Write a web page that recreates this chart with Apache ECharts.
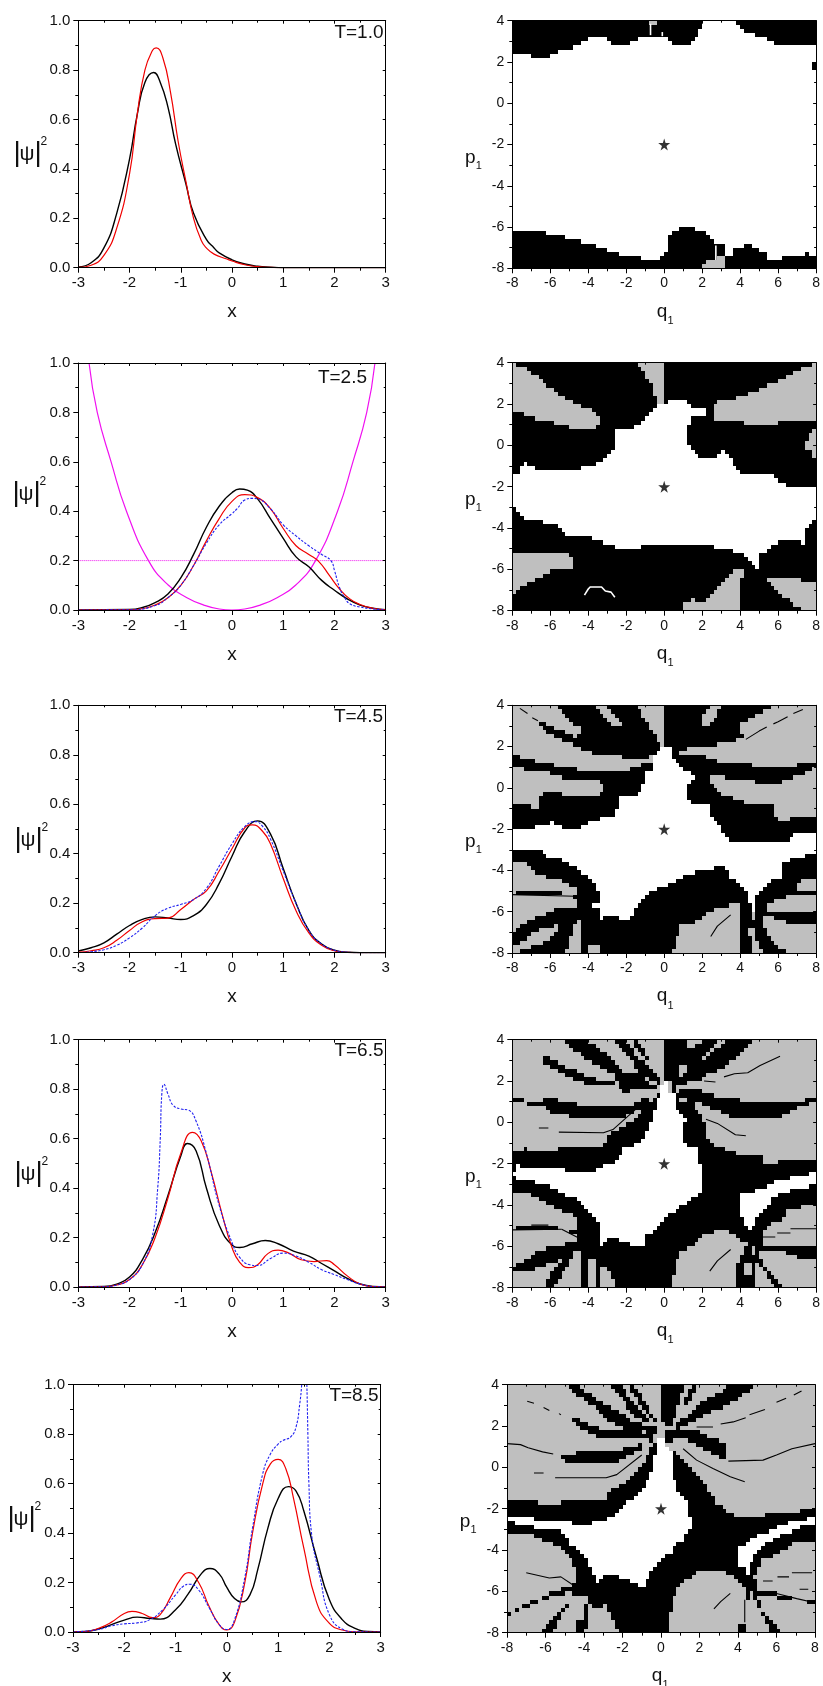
<!DOCTYPE html>
<html><head><meta charset="utf-8">
<style>html,body{margin:0;padding:0;background:#fff}#c{width:823px;height:1686px}</style>
<script src="https://cdn.jsdelivr.net/npm/echarts@6/dist/echarts.min.js"></script>
</head><body><div id="c"></div>
<script>
// ---------- wave-function curves, [x, |psi|^2] ----------
const timeLabels=['T=1.0','T=2.5','T=4.5','T=6.5','T=8.5'];
const xTicks=[-3,-2,-1,0,1,2,3];
const t1Black=[[-3,.003],[-2.75,.02],[-2.5,.08],[-2.25,.22],[-2,.44],[-1.85,.62],[-1.7,.75],[-1.53,.79],[-1.4,.75],[-1.25,.65],[-1.1,.5],[-.9,.34],[-.75,.22],[-.5,.115],[-.35,.08],[-.25,.06],[0,.032],[.25,.015],[.5,.006],[.75,.002],[1,0],[3,0]];
const t1Red=[[-3,.001],[-2.75,.01],[-2.5,.05],[-2.25,.16],[-2,.38],[-1.85,.62],[-1.7,.8],[-1.55,.88],[-1.48,.89],[-1.35,.85],[-1.2,.71],[-1.05,.51],[-.9,.35],[-.75,.2],[-.6,.11],[-.5,.08],[-.35,.055],[-.1,.035],[0,.027],[.25,.012],[.5,.004],[.75,.001],[1,0],[3,0]];
const t2Black=[[-3,0],[-2,.002],[-1.75,.01],[-1.5,.03],[-1.25,.065],[-1,.13],[-.75,.225],[-.5,.335],[-.25,.42],[0,.475],[.15,.49],[.3,.485],[.5,.45],[.75,.37],[1,.29],[1.25,.215],[1.5,.175],[1.75,.12],[2,.08],[2.25,.045],[2.5,.02],[2.75,.007],[3,.001]];
const t2Red=[[-3,0],[-2,.001],[-1.75,.005],[-1.5,.02],[-1.25,.05],[-1,.1],[-.75,.18],[-.5,.28],[-.25,.37],[0,.44],[.25,.467],[.5,.455],[.75,.41],[1,.33],[1.25,.26],[1.5,.225],[1.7,.195],[1.9,.14],[2.1,.085],[2.3,.045],[2.5,.022],[2.75,.007],[3,.001]];
const t2Blue=[[-3,0],[-2,.001],[-1.5,.018],[-1.25,.05],[-1,.1],[-.75,.18],[-.5,.27],[-.25,.345],[0,.39],[.1,.41],[.25,.445],[.4,.452],[.5,.45],[.75,.41],[1,.345],[1.25,.3],[1.5,.26],[1.75,.225],[1.93,.2],[2,.16],[2.1,.09],[2.2,.05],[2.3,.025],[2.5,.012],[2.75,.004],[3,0]];
const t2Potential=[[-2.79,1],[-2.63,.8],[-2.36,.6],[-2.06,.4],[-1.63,.2],[-1.24,.1],[-.88,.05],[-.55,.02],[-.25,.004],[0,0],[.25,.004],[.55,.02],[.88,.05],[1.24,.1],[1.63,.2],[2.06,.4],[2.36,.6],[2.63,.8],[2.79,1]];
const t2Level=[[-3,.2],[3,.2]];
const t3Black=[[-3,.007],[-2.75,.02],[-2.5,.04],[-2.25,.075],[-2,.11],[-1.75,.135],[-1.5,.145],[-1.25,.14],[-1,.134],[-.75,.15],[-.5,.195],[-.25,.28],[0,.39],[.25,.49],[.5,.533],[.75,.48],[1,.34],[1.25,.2],[1.5,.09],[1.75,.035],[2,.01],[2.25,.002],[2.5,0],[3,0]];
const t3Red=[[-3,.002],[-2.75,.008],[-2.5,.02],[-2.25,.05],[-2,.09],[-1.75,.125],[-1.5,.138],[-1.25,.14],[-1,.175],[-.75,.215],[-.5,.25],[-.25,.33],[0,.42],[.25,.505],[.4,.517],[.6,.49],[.75,.44],[1,.3],[1.25,.17],[1.5,.08],[1.75,.03],[2,.008],[2.25,.001],[2.5,0],[3,0]];
const t3Blue=[[-3,0],[-2.75,.004],[-2.5,.012],[-2.25,.03],[-2,.06],[-1.75,.1],[-1.5,.15],[-1.25,.18],[-1,.195],[-.75,.215],[-.5,.26],[-.25,.35],[0,.44],[.25,.51],[.45,.53],[.6,.51],[.75,.46],[1,.33],[1.25,.2],[1.5,.09],[1.75,.035],[2,.01],[2.25,.002],[2.5,0],[3,0]];
const t4Black=[[-3,0],[-2.5,.002],[-2.25,.012],[-2,.04],[-1.75,.11],[-1.5,.22],[-1.25,.37],[-1,.53],[-.87,.58],[-.7,.55],[-.5,.4],[-.25,.25],[0,.17],[.15,.16],[.4,.175],[.65,.188],[.9,.175],[1.2,.145],[1.5,.125],[1.75,.095],[2,.065],[2.25,.035],[2.5,.012],[2.75,.002],[3,0]];
const t4Red=[[-3,0],[-2.5,.001],[-2.25,.008],[-2,.03],[-1.75,.09],[-1.5,.2],[-1.25,.36],[-1,.54],[-.77,.625],[-.6,.59],[-.4,.46],[-.2,.3],[0,.16],[.15,.1],[.32,.078],[.5,.09],[.7,.135],[.9,.149],[1.1,.138],[1.35,.11],[1.6,.103],[1.85,.107],[2,.09],[2.25,.045],[2.5,.012],[2.75,.002],[3,0]];
const t4Blue=[[-3,0],[-2.5,.001],[-2.25,.008],[-2,.03],[-1.75,.09],[-1.55,.21],[-1.45,.4],[-1.4,.6],[-1.37,.78],[-1.33,.82],[-1.25,.78],[-1.15,.735],[-1,.72],[-.85,.715],[-.7,.67],[-.5,.54],[-.25,.33],[0,.18],[.15,.12],[.35,.09],[.5,.087],[.75,.115],[1,.137],[1.25,.125],[1.5,.1],[1.75,.07],[2,.05],[2.25,.03],[2.5,.012],[2.75,.002],[3,0]];
const t5Black=[[-3,0],[-2.75,.002],[-2.5,.012],[-2.25,.03],[-2,.048],[-1.75,.06],[-1.5,.055],[-1.3,.052],[-1,.09],[-.75,.155],[-.5,.235],[-.33,.257],[-.15,.235],[0,.18],[.15,.135],[.28,.122],[.45,.15],[.6,.25],[.8,.42],[1,.54],[1.2,.588],[1.35,.57],[1.5,.49],[1.75,.3],[2,.13],[2.25,.05],[2.5,.015],[2.75,.002],[3,0]];
const t5Red=[[-3,0],[-2.75,.002],[-2.5,.015],[-2.25,.04],[-2,.075],[-1.85,.083],[-1.65,.075],[-1.45,.058],[-1.3,.07],[-1.1,.14],[-.9,.215],[-.74,.24],[-.55,.2],[-.35,.105],[-.15,.03],[0,.008],[.15,.04],[.35,.2],[.5,.4],[.7,.6],[.85,.68],[1,.698],[1.15,.66],[1.3,.54],[1.5,.34],[1.75,.12],[2,.035],[2.25,.008],[2.5,.001],[3,0]];
const t5Blue=[[-3,0],[-2.5,.01],[-2.25,.025],[-2,.033],[-1.75,.037],[-1.5,.05],[-1.25,.09],[-1,.15],[-.85,.185],[-.72,.193],[-.55,.17],[-.35,.1],[-.15,.03],[0,.01],[.15,.05],[.35,.22],[.5,.42],[.7,.64],[.85,.72],[1,.76],[1.1,.775],[1.25,.79],[1.35,.83],[1.42,.92],[1.46,1],[1.5,1.12],[1.54,1.12],[1.56,1],[1.58,.8],[1.6,.6],[1.65,.4],[1.82,.22],[2,.07],[2.25,.012],[2.5,.001],[3,0]];

// ---------- basin maps, region outlines in (q1, p1) ----------
const starPoint=[[0,-2]];
const map1Black=[[[-8,4],[8,4],[8,2.8],[6.2,2.8],[5.6,3],[5.2,3.2],[4.4,3.4],[4,3.6],[3.7,4],[2.1,4],[1.9,3.6],[1.8,3.2],[1.5,3],[1.4,2.8],[.6,2.8],[.2,3.1],[-.1,3.2],[-1.2,3.2],[-1.6,3],[-1.8,2.8],[-2.5,2.8],[-2.9,3],[-3.1,3.2],[-3.9,3.2],[-4.3,3],[-4.6,2.8],[-5.1,2.6],[-6,2.4],[-6,2.2],[-6.9,2.2],[-7,2.4],[-8,2.4]],
[[7.8,2.1],[8,2.1],[8,1.6],[7.8,1.6]],
[[-8,-6.2],[-6.2,-6.2],[-6,-6.4],[-5.2,-6.4],[-5,-6.6],[-4.4,-6.6],[-4.2,-6.8],[-3.8,-6.8],[-3.6,-7],[-3,-7],[-2.8,-7.2],[-2.4,-7.2],[-2.2,-7.4],[-1.2,-7.4],[-1.2,-7.6],[-.2,-7.6],[0,-7.4],[.1,-7.2],[.2,-6.6],[.4,-6.2],[.7,-6.2],[.8,-6],[1.6,-6],[1.7,-6.2],[2.1,-6.2],[2.3,-6.4],[2.5,-6.6],[2.7,-6.8],[3.3,-6.8],[3.3,-7.4],[3.6,-7.4],[3.6,-7],[4.2,-7],[4.2,-6.8],[4.7,-6.8],[4.7,-7],[5.1,-7],[5.1,-7.2],[5.4,-7.2],[5.4,-7.4],[5.5,-7.6],[6.2,-7.6],[6.3,-7.4],[7.4,-7.4],[7.4,-7.2],[7.7,-7.2],[7.7,-7.4],[8,-7.4],[8,-8],[-8,-8]]];
const map1Gray=[[[2,-8],[2,-7.8],[2.2,-7.8],[2.2,-7.6],[2.8,-7.6],[2.8,-7.4],[3.3,-7.4],[3.3,-8]],[[-.8,4],[-.4,4],[-.4,3.8],[-.8,3.8]]];
const map1WhiteLines=[[[-.72,3.3],[-.72,3.85]],[[-.1,3.25],[-.1,3.45]],[[2.72,-6.9],[2.72,-7.6]]];

const map2Gray=[[[-8,4],[-7.25,3.7],[-6.4,3.1],[-5.5,2.5],[-4.65,2],[-3.6,1.6],[-3.35,1.15],[-3.6,.8],[-4.55,.8],[-5.5,1.05],[-6.4,1.2],[-7.15,1.45],[-8,1.6]],
[[-1.45,4],[-1.2,3.65],[-.65,2.85],[-.3,2],[.05,2],[.05,4]],
[[8,4],[7,3.65],[5.95,3.1],[5,2.7],[3.75,2.3],[2.7,2.1],[2.55,1.65],[2.7,1.2],[4.8,1.05],[6.1,1],[6.1,1.2],[8,1.2]],
[[8,.9],[7.7,.65],[7.7,.35],[7.5,.2],[7.5,-.2],[7.85,-.3],[7.85,-.6],[8,-.6]],
[[-8,-5.2],[-5,-5.2],[-4.8,-5.4],[-4.8,-5.9],[-5.75,-5.9],[-6.4,-6.3],[-7.1,-6.7],[-7.6,-6.9],[-8,-7.2]],
[[.9,-8],[.95,-7.65],[1.6,-7.4],[1.85,-7.65],[2.1,-7.65],[2.4,-7.25],[3,-6.6],[3.6,-6.05],[4.3,-6],[3.95,-6.75],[3.95,-8]],
[[5.4,-6.4],[7,-6.4],[7.3,-6.6],[8,-6.6],[8,-8],[7.4,-8],[6.8,-7.65],[6.1,-7.25]]];
const map2White=[[[-8,-1.45],[-7.6,-1.35],[-7.4,-.6],[-7.05,-.95],[-6.7,-1.2],[-5.1,-1.2],[-3.6,-.95],[-3.2,-.7],[-2.75,-.4],[-2.55,.25],[-2.75,.9],[-2.45,.8],[-1.8,.85],[-1.15,1.05],[-.3,1.95],[.2,2],[.3,2.2],[1.1,2.2],[1.6,1.8],[2.15,1.8],[2.15,1.5],[1.6,1.45],[1.15,.9],[1.15,.25],[1.4,-.2],[1.85,-.6],[2.65,-.6],[3,-.2],[3.35,-.45],[3.7,-1],[4.2,-1.45],[5.75,-1.45],[6.3,-1.85],[6.8,-2.05],[8,-2.05],[8,-3.45],[7.5,-3.95],[7.4,-4.75],[7.05,-4.6],[6.2,-4.6],[5.75,-4.85],[5.05,-5.25],[5,-6.05],[4.55,-5.55],[4.2,-5.2],[3.15,-5],[2.1,-4.8],[-1.2,-4.8],[-1.35,-5],[-2.4,-5],[-3,-4.75],[-3.6,-4.6],[-4.1,-4.4],[-5,-4.4],[-5.7,-3.8],[-7.25,-3.6],[-8,-3]]];
const map2WhiteLines=[[[-4.2,-7.25],[-4,-6.95],[-3.9,-6.85],[-3.3,-6.85],[-3.1,-7.05],[-2.8,-7.1],[-2.6,-7.35]]];

const map3Black=[[[-6.65,3.25],[-4.65,2.45],[-4.4,2.65],[-4.4,2.85],[-5.8,4],[-3.7,4],[-2.65,3.05],[-2.15,3.05],[-3.15,4],[-1.45,4],[-.65,2.8],[-.2,2],[-.5,1.65],[-.75,1.5],[-1.85,1.5],[-2.05,1.3],[-2.2,1.5],[-3.6,1.6],[-4.65,2],[-6.4,2.8]],
[[-8,1.6],[-7.15,1.35],[-6.4,1.25],[-5.5,1],[-4.65,1],[-4.5,.8],[-1.85,.8],[-1.65,1],[-.7,1.2],[-.65,.9],[-1,.7],[-1.15,.05],[-1.35,-.35],[-2.3,-.4],[-2.55,-1.05],[-2.7,-1.4],[-3.25,-1.45],[-3.95,-1.7],[-4.65,-2],[-5.35,-2],[-5.85,-1.6],[-6.05,-1.8],[-7.45,-2],[-8,-2],[-8,-.85],[-7.1,-.85],[-6.9,-1],[-6.65,-1],[-6.65,-.4],[-6.25,-.25],[-3.6,-.4],[-3.2,-.15],[-3.2,.05],[-3.45,.3],[-5,.4],[-6.05,.7],[-7.45,.9],[-8,1.05]],
[[.05,4],[2.45,4],[1.95,3.55],[1.95,3.05],[2.3,3.05],[3.15,4],[5.7,4],[4.05,3.15],[4.05,2.55],[4.3,2.35],[3.75,2.3],[2.75,2.1],[.75,1.85],[.75,1.65],[2.75,1.45],[2.8,1.2],[4.55,1.2],[4.8,1],[6.1,1],[8,1.2],[8,1],[7,.55],[6.2,.3],[4.75,.3],[2.8,.55],[2.4,.7],[2.45,.25],[3.15,-.4],[4.4,-.75],[5.75,-.85],[5.7,-1.2],[6.05,-1.6],[6.55,-1.6],[6.55,-1.45],[8,-1.4],[8,-2.2],[7,-2.2],[6.3,-2.65],[3.4,-2.65],[3,-2],[2.45,-1.4],[2.4,-.85],[1.4,-.85],[1.15,-.35],[1.15,.2],[1.4,.3],[1.75,.55],[1.15,.8],[.55,1.25],[.4,2],[.05,2]],
[[-8,-2.6],[8,-2.6],[8,-8],[-8,-8]]];
const map3Gray=[[[-8,-3.55],[-7.25,-3.55],[-6.8,-4.15],[-5.7,-4.4],[-5,-4.7],[-4.55,-4.95],[-4.55,-5.25],[-5.35,-5.1],[-6.4,-4.9],[-7.1,-4.95],[-8,-5.15]],
[[-8,-5.2],[-4.8,-5.25],[-4.55,-5.6],[-4.55,-5.85],[-5.7,-5.9],[-6.55,-6.2],[-7.45,-6.65],[-8,-7.1]],
[[-8,-7.7],[-7.25,-7.3],[-6.4,-6.8],[-5.6,-6.65],[-5.6,-6.95],[-6.1,-7.35],[-6.9,-7.7],[-8,-8]],
[[-5.15,-8],[-4.65,-6.4],[-4.4,-6.4],[-4.4,-8]],
[[-3.9,-7.6],[-3.4,-7.6],[-3.4,-8],[-3.9,-8]],
[[.45,-8],[.9,-6.65],[1.85,-6.45],[2.15,-6.15],[2.65,-5.8],[4.1,-5.6],[4.1,-5.9],[3.95,-6.7],[3.95,-8]],
[[4.4,-6.85],[4.75,-6.85],[4.9,-7.35],[5.15,-8],[4.6,-8],[4.6,-7.35]],
[[4.6,-6.05],[4.9,-6.05],[4.9,-6.3],[4.6,-6.3]],
[[5.15,-6.25],[5.7,-6.25],[6.8,-6.6],[8,-6.6],[8,-8],[6.45,-8],[5.95,-7.6],[5.4,-7.05],[5.15,-6.55]],
[[5.4,-5.75],[5.85,-5.5],[6.65,-5.2],[8,-5.2],[8,-5.9],[5.4,-5.9]],
[[7.05,-5.05],[7.05,-4.55],[7.5,-4.35],[8,-4.35],[8,-5.05]]];
const map3White=[[[-8,-2],[-7.45,-2],[-6.05,-1.8],[-5.85,-1.6],[-5.35,-2],[-4.65,-2],[-3.95,-1.7],[-3.25,-1.45],[-2.7,-1.4],[-2.55,-1.05],[-2.3,-.4],[-1.35,-.35],[-1.15,.05],[-1,.7],[-.65,.9],[-.55,1.6],[-.05,2],[.4,2],[.55,1.25],[1.15,.8],[1.75,.55],[1.4,.3],[1.15,.2],[1.15,-.35],[1.4,-.85],[2.4,-.85],[2.45,-1.4],[3,-2],[3.4,-2.65],[6.3,-2.65],[7,-2.2],[8,-2.2],[8,-3.15],[7.5,-3.3],[6.45,-3.55],[6.2,-3.8],[6.2,-4.3],[5.75,-4.35],[5.25,-4.8],[4.8,-5.25],[4.8,-5.9],[4.55,-5.9],[4.45,-5.25],[4.1,-4.85],[3.5,-4.3],[3.1,-3.8],[1.95,-4],[.9,-4.35],[.05,-4.8],[-.5,-4.95],[-1.2,-5.4],[-1.5,-5.9],[-1.8,-6.4],[-3.1,-6.2],[-3.35,-6.4],[-3.4,-5.75],[-3.8,-5.75],[-3.4,-5.5],[-3.4,-5.1],[-3.6,-4.8],[-3.95,-4.3],[-4.65,-3.9],[-5.25,-3.55],[-6.2,-3.3],[-6.55,-2.95],[-8,-2.95]]];
const map3Lines=[[[-7.6,3.85],[-7.2,3.6]],[[-6.95,3.4],[-6.65,3.25]],[[4.3,2.35],[5,2.75],[5.4,2.95]],[[5.75,3.1],[6,3.2],[6.5,3.45]],[[6.8,3.6],[7.3,3.8]],[[-8,-5.17],[-4.7,-5.25]],[[2.45,-7.2],[2.8,-6.7],[3.5,-6.15]],[[6.65,-5.15],[8,-5.12]]];

const map4Black=[[[-6.4,3.25],[-6.1,3.2],[-4.8,2.55],[-3.45,2.05],[-2.65,2.05],[-2.55,1.85],[-3.1,1.8],[-4.15,1.9],[-5,2.2],[-6.4,2.95]],
[[-5.25,4],[-4.05,4],[-3.1,3.35],[-2.05,2.45],[-1.2,2.3],[-.75,1.9],[-.3,1.9],[-.5,1.55],[-1.85,1.5],[-1.95,1.3],[-2.15,1.45],[-2.4,1.8],[-2.65,2.3],[-3.6,2.75],[-4.65,3.4]],
[[-2.75,4],[-2.05,4],[-1.35,3.1],[-.65,2.55],[-.2,2],[-.3,1.85],[-1.2,2.35],[-1.85,3.1]],
[[-1.65,4],[-1.45,4],[-.9,3.25],[-.5,2.45],[-.2,2],[-.75,2.8],[-1.35,3.4]],
[[-8,1.25],[-7.45,1.15],[-7.1,.95],[-6.05,1.2],[-5.6,1.2],[-5.5,.95],[-4.65,.95],[-4.5,.8],[-1.7,.8],[-1.2,1.15],[-.65,1.3],[-.85,.75],[-1.5,.5],[-2.05,.3],[-5,.3],[-5.2,.5],[-6.05,.5],[-6.2,.75],[-7.25,.9],[-8,1.1]],
[[-.65,1],[-.3,1.45],[-.2,1.4],[-.75,-.15],[-1.2,-.95],[-2.15,-1.25],[-2.2,-1.6],[-2.65,-2],[-3.45,-2.15],[-3.8,-2.4],[-4.9,-2.4],[-5.35,-2.25],[-7.25,-2.25],[-7.6,-2.05],[-8,-2.45],[-8,-1.4],[-7.15,-1.25],[-7.1,-1.4],[-5.7,-1.4],[-5.6,-1.1],[-5.35,-1.25],[-3.15,-1.25],[-3,-.75],[-2.65,-.45],[-1.7,0],[-1,.6]],
[[.65,1.1],[1.6,.7],[2.1,.05],[2.15,-.75],[2.8,-1.2],[3.85,-1.5],[5.15,-1.65],[5.2,-2],[6.8,-1.8],[8,-1.85],[8,-8],[-8,-8],[-8,-2.3],[.2,-2.3]],
[[.05,4],[1.25,4],[1.25,3.65],[1.6,3.65],[2.05,4],[2.9,4],[1.6,2.7],[1.25,2.35],[.8,2.35],[1.1,1.9],[.55,1.9],[.05,2]],
[[3.35,4],[4.8,4],[3.7,3.1],[2.65,2.35],[2.1,2.3],[2.1,2.05],[.65,1.9],[.45,1.9],[1.6,2.7]],
[[.55,1.6],[1.75,1.6],[2.8,1.25],[5.6,.9],[6.8,.95],[8,1.25],[8,1.1],[6.8,.6],[6.2,.3],[3.5,.3],[2.45,.7],[1.6,1.15],[1.1,1.3]],
[[.2,1.9],[.65,1.9],[.65,1.4],[1.6,1.15],[1.6,.7],[.65,1.1]]];
const map4Gray=[[[-8,-3.35],[-7.25,-3.35],[-6.2,-3.85],[-5.35,-4.3],[-4.65,-4.55],[-4.55,-5.3],[-5.35,-5.15],[-6.2,-5],[-7.1,-4.9],[-8,-5.15]],
[[-8,-5.25],[-5.35,-5.2],[-4.65,-5.45],[-4.4,-5.6],[-4.65,-5.85],[-5.8,-5.95],[-6.75,-6.3],[-7.95,-7.05],[-8,-7.15]],
[[-8,-7.2],[-7.5,-7.1],[-7.1,-7.2],[-5.7,-6.75],[-5.1,-6.45],[-5.95,-7.2],[-6.3,-8],[-8,-8]],
[[-5.6,-7.7],[-5,-6.9],[-4.7,-6.2],[-4.4,-6.2],[-4.4,-8],[-5.8,-8]],
[[-4.05,-6.35],[-3.6,-6.8],[-3.6,-8],[-3.9,-8],[-4.05,-7.55]],
[[-3.3,-7],[-3,-7],[-2.55,-8],[-3.3,-8]],
[[.3,-8],[.65,-6.8],[.9,-6.25],[1.6,-5.85],[2.3,-5.35],[3.1,-5.2],[3.7,-5.35],[4.1,-5.75],[4.4,-5.95],[4.1,-6.4],[3.9,-6.75],[3.9,-8]],
[[4.3,-6.75],[4.65,-6.75],[4.65,-7.5],[4.3,-7.3]],
[[4.7,-6.45],[5.8,-8],[4.75,-8]],
[[4.55,-6],[4.9,-6],[4.9,-6.3],[4.55,-6.3]],
[[5.05,-6.2],[6.2,-6.2],[7,-6.5],[8,-6.6],[8,-8],[6.2,-8],[5.4,-7.15],[5.05,-6.5]],
[[5.3,-5.15],[5.85,-4.8],[6.45,-4.65],[6.45,-4.3],[7.15,-4.1],[8,-4],[8,-5.95],[5.2,-5.9],[5.2,-5.5]],
[[.9,2.75],[1.3,2.75],[1.3,2.4],[.9,2.4]],
[[.9,1.3],[1.3,1.3],[1.3,1],[.9,1]]];
const map4White=[[[-8,-2.55],[-7.75,-2.05],[-7.5,-2.25],[-5.35,-2.25],[-4.9,-2.4],[-3.8,-2.4],[-3.45,-2.15],[-2.65,-2],[-2.2,-1.6],[-2.15,-1.25],[-1.2,-.95],[-.75,-.15],[-.2,1.4],[-.05,2],[.2,1.9],[.25,1.3],[.65,1.4],[.65,.7],[1.15,.2],[1.35,.05],[1,.05],[.95,-1],[1.75,-1.25],[1.75,-1.75],[2,-2],[2,-3.35],[1.5,-3.65],[.9,-4.05],[.4,-4.4],[-.15,-4.8],[-.5,-5.25],[-1,-5.45],[-1,-5.95],[-1.2,-6.1],[-2.05,-5.8],[-2.75,-5.6],[-3.35,-5.95],[-3.4,-4.95],[-3.95,-4.3],[-4.65,-3.7],[-5.5,-3.35],[-6.2,-3.05],[-7.7,-2.7]],
[[3.95,-3.6],[4.1,-3.5],[5.05,-3.2],[6.1,-2.8],[7.15,-2.55],[8,-2.45],[8,-2.95],[7.65,-2.95],[7.6,-3.2],[7.15,-3.1],[5.75,-3.6],[5.4,-4.15],[4.8,-4.8],[4.55,-5.2],[3.95,-4.5]]];
const map4Lines=[[[2.2,.15],[2.8,-.05],[3.75,-.6],[4.3,-.65]],[[-6.6,-.27],[-6.1,-.27]],[[-5.55,-.47],[-3.2,-.5],[-2.7,-.35],[-1.3,.8]],[[3.15,2.2],[3.7,2.35],[4.4,2.4],[5.05,2.75],[6.1,3.2]],[[2.1,2],[2.7,1.95]],[[-8,-5.2],[-5.4,-5.17]],[[-7,-4.97],[-6.1,-4.97]],[[-5.4,-5.17],[-4.5,-5.6]],[[2.4,-7.2],[2.8,-6.7],[3.5,-6.15]],[[6.65,-5.15],[8,-5.15]],[[5.95,-5.35],[6.65,-5.35]],[[5.2,-5.55],[5.85,-5.55]]];

const map5Black=[[[-5,4],[-4.4,4],[-3.15,3.2],[-1.8,2.45],[-1.2,2.15],[-.9,2.2],[-.05,1.8],[-.5,1.5],[-1.2,1.9],[-1.95,1.9],[-3,2.45],[-3.45,2.95],[-4.2,3.4]],
[[-4.55,2.4],[-4.3,2.4],[-3.7,2.05],[-3,1.8],[-1.95,1.85],[-1.2,1.75],[-.25,1.55],[-.5,1.3],[-1.85,1.45],[-2.05,1.25],[-2.2,1.45],[-3.35,1.5],[-3.85,1.7],[-4.55,2.15]],
[[-2.65,4],[-2.15,4],[-.9,2.55],[-.5,2.15],[-1.25,2.35],[-1.8,3]],
[[-1.7,4],[-1.45,4],[-.75,3.1],[-.05,1.9],[-.75,2.55],[-1.2,3.25]],
[[.05,4],[1.15,4],[1.05,3.25],[.8,2.3],[.4,1.95],[.05,2.3]],
[[.3,1.75],[.65,1.75],[.65,1.2],[.3,1.2]],
[[1.15,3.25],[1.7,4],[1.85,4],[1.35,2.8]],
[[.9,2.15],[2.05,3.1],[3.05,3.6],[3.6,4],[4.95,4],[3.6,3.1],[1.85,2.35],[.8,1.8]],
[[.45,1.75],[1.7,1.8],[2.35,1.55],[3.5,1.1],[3.5,.5],[3.05,.5],[1.85,1.1],[1.15,1.4],[.45,1.4]],
[[.55,.85],[1.15,.45],[1.85,-.3],[2.35,-.95],[2.9,-1.75],[3.6,-2.25],[4.6,-2.45],[6.35,-2.15],[8,-2.05],[8,-8],[-8,-8],[-8,-2.3],[.3,-2.3]],
[[-8,-1.65],[-6.3,-1.65],[-6.3,-1.8],[-5.15,-1.8],[-5.15,-1.65],[-2.75,-1.65],[-2.75,-1.15],[-2.3,-1],[-1.45,-.45],[-.85,.35],[-.25,1.3],[-.1,1.25],[-.5,-.15],[-.85,-1],[-1.25,-1.4],[-2.05,-1.9],[-2.4,-2.4],[-3.7,-2.7],[-3.7,-2.85],[-4.3,-2.85],[-4.9,-2.5],[-5.4,-2.7],[-6.45,-2.55],[-6.8,-2.3],[-7.3,-2.4],[-7.5,-2.3],[-8,-2.3]],
[[-5.6,.7],[-5.1,.5],[-5,.3],[-2.3,.3],[-1.6,.6],[-.9,1],[-1.1,1.15],[-2,.9],[-4.9,.65]],
[[.55,.85],[.75,-1.1],[1.4,-1.6],[1.55,-2.9],[.3,-2.9]]];
const map5Gray=[[[-8,-3.15],[-6.8,-3.2],[-6.1,-3.5],[-5.15,-3.9],[-4.65,-4.5],[-4.4,-5.15],[-4.4,-5.65],[-5,-5.85],[-6,-6.2],[-7.15,-6.65],[-8,-7.15]],
[[-8,-7.2],[-7.3,-6.9],[-6.1,-6.4],[-5,-6.1],[-4.7,-6.4],[-5.4,-7.05],[-6.2,-8],[-8,-8]],
[[-5.25,-7.25],[-4.7,-6.4],[-4.45,-6.1],[-3.85,-6.2],[-4,-7.4],[-3.85,-8],[-5.6,-8]],
[[-3.85,-6.4],[-3.45,-6.8],[-2.85,-6.65],[-2.15,-8],[-3.85,-8]],
[[.3,-8],[.55,-6.8],[.8,-5.95],[1.35,-5.45],[2.05,-5],[3.35,-5],[4,-5.55],[4.45,-5.95],[4.35,-6.4],[4.35,-8]],
[[4.45,-6.4],[4.9,-6.4],[5.75,-8],[4.35,-8]],
[[5.05,-6.25],[6,-6.3],[7.05,-6.4],[8,-6.6],[8,-8],[6.2,-8],[5.3,-7]],
[[4.9,-5.3],[5.3,-4.5],[6.35,-4],[7.05,-3.6],[8,-3.5],[8,-6.5],[7.05,-6.35],[6,-6.1],[5,-5.95]],
[[-1.25,2.5],[-.9,2.5],[-.9,2.2],[-1.25,2.2]],[[-.9,2.3],[-.55,2.3],[-.55,2],[-.9,2]],[[.55,2.5],[.9,2.5],[.9,2.15],[.55,2.15]],[[.9,2.75],[1.25,2.75],[1.25,2.4],[.9,2.4]],[[.9,3.1],[1.25,3.1],[1.25,2.8],[.9,2.8]],[[.55,1.45],[.9,1.45],[.9,1.2],[.55,1.2]],[[.9,1.3],[1.25,1.3],[1.25,.95],[.9,.95]],[[4.55,-6],[4.9,-6],[4.9,-6.3],[4.55,-6.3]],[[-4.9,-6],[-4.55,-6],[-4.55,-6.3],[-4.9,-6.3]]];
const map5BlackTop=[[[-4.4,-7.4],[-3.95,-7.4],[-3.95,-7.9],[-4.4,-7.9]],[[4.1,-7.55],[4.35,-7.55],[4.35,-8],[4.1,-8]]];
const map5White=[[[-8,-2.3],[-7.5,-2.3],[-7.3,-2.4],[-6.8,-2.3],[-6.45,-2.55],[-5.4,-2.7],[-4.9,-2.5],[-4.3,-2.85],[-3.7,-2.85],[-3.7,-2.7],[-2.4,-2.4],[-2.05,-1.9],[-1.25,-1.4],[-.85,-1],[-.5,-.15],[-.15,1.15],[-.05,1.8],[.1,1.3],[.55,.85],[.75,-1.1],[1.4,-1.6],[1.35,-2.05],[1.55,-2.55],[1.55,-2.95],[1.15,-3.45],[.45,-4.15],[.1,-4.4],[-.5,-5.05],[-.9,-5.75],[-1.2,-5.7],[-1.8,-5.35],[-2.9,-5.2],[-3.35,-5.6],[-3.6,-4.95],[-3.95,-4.3],[-4.7,-3.7],[-5.25,-3.1],[-6.45,-2.95],[-7.65,-2.7],[-8,-2.55]],
[[4.1,-3.9],[4.45,-3.6],[5.3,-3.2],[6.5,-2.7],[7.9,-2.45],[8,-2.7],[7.05,-2.95],[5.65,-3.6],[5.05,-4],[4.6,-4.8],[4.55,-5.2],[4.35,-4.8],[4.1,-4.75]]];
const map5Lines=[[[-8,1.15],[-7.3,1.1],[-6.9,.95],[-6.15,.75],[-5.6,.65]],[[-6.6,-.27],[-6.1,-.27]],[[-5.5,-.5],[-2.85,-.5],[-2.3,-.35],[-1,.6]],[[-6.95,3.2],[-6.6,3.1]],[[-6.1,2.9],[-5.8,2.75]],[[-5.3,2.6],[-5.2,2.55]],[[-7,-5.1],[-5.8,-5.35],[-5.2,-5.3],[-4.55,-5.7]],[[3.1,2.1],[3.75,2.2],[4.4,2.4]],[[4.6,2.55],[5.4,2.8]],[[6,3.15],[6.5,3.35]],[[6.9,3.5],[7.3,3.7]],[[1.85,1.95],[2.7,1.95]],[[3.5,.3],[5.3,.35],[6,.6],[6.8,.9],[8,1.15]],[[1.15,.9],[1.85,.35],[2.7,-.05],[3.6,-.45],[4.35,-.7]],[[2.75,-6.85],[3.1,-6.5],[3.6,-6.1]],[[6.8,-5.1],[7.85,-5.1]],[[6.05,-5.3],[6.65,-5.3]],[[5.3,-5.5],[5.8,-5.5]],[[7.2,-5.9],[7.65,-5.9]],[[4.35,-6.4],[4.35,-7.5]],[[6,-6.1],[7.05,-6.35],[8,-6.55]]];

// ---------- layout and style ----------
const BLACK='#000',RED='#f00000',BLUE='#2020f0',MAGENTA='#f010f0',GRAY='#bfbfbf';
const leftPlots=[[78.3,20.7,307.4,247],[78.3,363,307.4,247],[78.3,705.3,307.4,247.4],[78.3,1039.7,307.4,247.3],[73,1384.7,307.7,247.3]];
const rightPlots=[[512.3,20.7,307.4,247.6],[512.3,362.7,307.4,248],[512.3,705.3,307.4,247.7],[512.3,1039.7,307.4,248],[507,1384.7,308,248]];
const timeRight=[383.5,367,383,383.5,378.5];
const timeY=[33,378,717,1051,1396];
const psiPos=[[16,153],[15,493],[17,839],[17,1173],[10,1518]];
const curves=[
 {black:t1Black,red:t1Red},
 {black:t2Black,red:t2Red,blue:t2Blue,pot:t2Potential,level:t2Level},
 {black:t3Black,red:t3Red,blue:t3Blue},
 {black:t4Black,red:t4Red,blue:t4Blue},
 {black:t5Black,red:t5Red,blue:t5Blue}];
const maps=[
 {base:0,black:map1Black,gray:map1Gray,whiteLines:map1WhiteLines},
 {base:2,gray:map2Gray,white:map2White,whiteLines:map2WhiteLines},
 {base:1,black:map3Black,gray:map3Gray,white:map3White,lines:map3Lines},
 {base:1,black:map4Black,gray:map4Gray,white:map4White,lines:map4Lines},
 {base:1,black:map5Black,gray:map5Gray,blackTop:map5BlackTop,white:map5White,lines:map5Lines}];
const FONT='"Liberation Sans",Arial,sans-serif';

function inside(pt,poly){let c=false;for(let i=0,j=poly.length-1;i<poly.length;j=i++){
 const a=poly[i],b=poly[j];
 if((a[1]>pt[1])!==(b[1]>pt[1])&&pt[0]<(b[0]-a[0])*(pt[1]-a[1])/(b[1]-a[1])+a[0])c=!c;}return c;}
// paint the region outlines onto the 0.2-unit sampling lattice of the map and merge runs
function cells(m){
 const out=[],step=.2;
 const layers=[[m.black,2],[m.gray,1],[m.blackTop,2],[m.white,0]];
 for(let r=0;r<60;r++){
  const p=-8+step*(r+.5);let start=0,cur=null;
  for(let c=0;c<=80;c++){
   let v=null;
   if(c<80){const q=-8+step*(c+.5);v=m.base;
    for(const [polys,val] of layers){if(!polys)continue;for(const poly of polys)if(inside([q,p],poly))v=val;}}
   if(v!==cur){if(cur)out.push([-8+step*start,-8+step*c,-8+step*r,-8+step*(r+1),cur]);start=c;cur=v;}
  }
 }
 return out;
}
const cellColor=[null,GRAY,BLACK];
function renderCell(params,api){
 const a=api.coord([api.value(0),api.value(3)]),b=api.coord([api.value(1),api.value(2)]);
 const x=Math.round(a[0]),y=Math.round(a[1]);
 return {type:'rect',shape:{x,y,width:Math.round(b[0])-x,height:Math.round(b[1])-y},style:{fill:cellColor[api.value(4)]}};
}
const grids=[],xAxes=[],yAxes=[],series=[],graphic=[];
function axes(min,max,interval,isX,gridIndex,fmt,fontSize){
 const base={type:'value',gridIndex,min,max,interval,z:5,silent:true,splitLine:{show:false},
  axisLine:{show:true,onZero:false,lineStyle:{color:'#000',width:1}}};
 const main=Object.assign({},base,{position:isX?'bottom':'left',
  axisTick:{show:true,length:5,inside:false,lineStyle:{color:'#000'}},
  minorTick:{show:true,splitNumber:2,length:3,lineStyle:{color:'#000'}},
  axisLabel:{show:true,color:'#111',fontFamily:FONT,fontSize,margin:8,formatter:fmt,showMinLabel:true,showMaxLabel:true,hideOverlap:false}});
 const second=Object.assign({},base,{position:isX?'top':'right',
  axisTick:{show:true,length:3,inside:true,lineStyle:{color:'#000'}},
  minorTick:{show:true,splitNumber:2,length:2,lineStyle:{color:'#000'}},
  axisLabel:{show:false}});
 return [main,second];
}
function txt(text,x,y,size,align){
 graphic.push({type:'text',silent:true,x,y,style:{text,fontFamily:FONT,fontSize:size,fill:'#111',align:align||'center',verticalAlign:'middle'}});
}
function addLine(gi,data,color,width,extra){
 series.push(Object.assign({type:'line',xAxisIndex:gi*2,yAxisIndex:gi*2,data,showSymbol:false,symbol:'none',silent:true,animation:false,clip:true,
  lineStyle:{color,width},z:3},extra||{}));
}
for(let i=0;i<5;i++){
 const gi=i*2,[l,t,w,h]=leftPlots[i],cv=curves[i];
 grids.push({left:l,top:t,width:w,height:h,containLabel:false,show:false});
 xAxes.push(...axes(-3,3,1,true,gi,v=>String(v),15));
 yAxes.push(...axes(0,1,.2,false,gi,v=>v.toFixed(1),15));
 const sm={smooth:.5};
 if(cv.pot)addLine(gi,cv.pot,MAGENTA,1.2,sm);
 if(cv.level)addLine(gi,cv.level,MAGENTA,1,{lineStyle:{color:MAGENTA,width:1,type:[1,1]}});
 addLine(gi,cv.black,BLACK,1.4,sm);
 addLine(gi,cv.red,RED,1.2,sm);
 if(cv.blue)addLine(gi,cv.blue,BLUE,1.1,Object.assign({lineStyle:{color:BLUE,width:1.1,type:[2.5,1.5]}},sm));
 txt(timeLabels[i],timeRight[i],timeY[i],19,'right');
 txt('x',l+w/2,t+h+44.5,19);
 const [px,py]=psiPos[i];
 txt('|',px-2.5,py,28,'left');
 txt('ψ',px+3.5,py+1,21,'left');
 txt('|',px+18.5,py,28,'left');
 txt('2',px+24.5,py-11,12,'left');

 const gj=i*2+1,[rl,rt,rw,rh]=rightPlots[i],m=maps[i];
 grids.push({left:rl,top:rt,width:rw,height:rh,containLabel:false,show:false});
 xAxes.push(...axes(-8,8,2,true,gj,v=>String(v),14));
 yAxes.push(...axes(-8,4,2,false,gj,v=>String(v),14));
 series.push({type:'custom',xAxisIndex:gj*2,yAxisIndex:gj*2,data:cells(m),renderItem:renderCell,encode:{x:[0,1],y:[2,3]},clip:true,silent:true,animation:false,z:1,progressive:0});
 (m.lines||[]).forEach(line=>addLine(gj,line,BLACK,1.1));
 (m.whiteLines||[]).forEach(line=>addLine(gj,line,'#fff',1.6));
 series.push({type:'scatter',xAxisIndex:gj*2,yAxisIndex:gj*2,data:starPoint,silent:true,animation:false,z:4,symbolSize:12,
  symbol:'path://M50 0 L61 35 L98 35 L68 57 L79 91 L50 70 L21 91 L32 57 L2 35 L39 35 Z',itemStyle:{color:'#000'}});
 txt('q',rl+rw/2-4,rt+rh+43,19);
 txt('1',rl+rw/2+4.5,rt+rh+52.5,11);
 txt('p',rl-42,rt+rh/2+13,19);
 txt('1',rl-33.5,rt+rh/2+21,11);
}
const chart=echarts.init(document.getElementById('c'),null,{renderer:'canvas',width:823,height:1686});
chart.setOption({backgroundColor:'#fff',animation:false,grid:grids,xAxis:xAxes,yAxis:yAxes,series,graphic:{elements:graphic}});
</script></body></html>
